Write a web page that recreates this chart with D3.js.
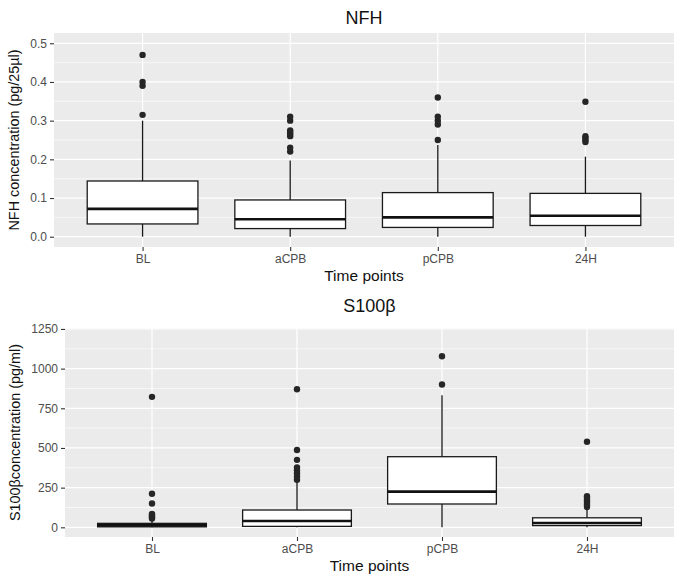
<!DOCTYPE html>
<html>
<head>
<meta charset="utf-8">
<script src="https://cdn.jsdelivr.net/npm/d3@7"></script>
<style>
  body { margin: 0; background: #fff; }
  svg { display: block; font-family: "Liberation Sans", Arial, sans-serif; }
</style>
</head>
<body>
<svg id="chart" width="686" height="578"></svg>
<script>
const timePoints = ["BL", "aCPB", "pCPB", "24H"];

// NFH (pg/25µl)
const nfhLow = [0, 0, 0, 0];
const nfhQ1 = [0.033, 0.021, 0.024, 0.029];
const nfhMedian = [0.072, 0.045, 0.05, 0.054];
const nfhQ3 = [0.144, 0.095, 0.114, 0.112];
const nfhHigh = [0.3, 0.197, 0.237, 0.207];
const nfhOutliers = [
  [0.315, 0.39, 0.4, 0.47],
  [0.22, 0.23, 0.26, 0.265, 0.27, 0.275, 0.3, 0.31],
  [0.25, 0.29, 0.3, 0.31, 0.36],
  [0.245, 0.25, 0.255, 0.26, 0.349],
];
const nfhTicks = [0, 0.1, 0.2, 0.3, 0.4, 0.5];

// S100β (pg/ml)
const s100Low = [0, 0, 0, 0];
const s100Q1 = [3, 6, 147, 11];
const s100Median = [12, 40, 225, 27];
const s100Q3 = [25, 109, 445, 60];
const s100High = [47, 290, 833, 118];
const s100Outliers = [
  [55, 62, 70, 78, 85, 150, 212, 822],
  [300, 320, 340, 360, 378, 425, 487, 870],
  [900, 1078],
  [128, 142, 156, 170, 184, 196, 539],
];
const s100Ticks = [0, 250, 500, 750, 1000, 1250];

const svg = d3.select("#chart");

function drawPanel(opts) {
  const { title, yLabel, low, q1, median, q3, high, outliers, ticks, domain, box, text } = opts;

  const x = d3
    .scalePoint()
    .domain(timePoints)
    .range([box.left, box.right])
    .padding(0.6);

  const y = d3.scaleLinear().domain(domain).range([box.bottom, box.top]);
  const boxWidth = x.step() * 0.75;

  const g = svg.append("g");

  g.append("rect")
    .attr("x", box.left)
    .attr("y", box.top)
    .attr("width", box.right - box.left)
    .attr("height", box.bottom - box.top)
    .attr("fill", "#ebebeb");

  // minor grid
  const minor = d3.pairs(ticks).map(([a, b]) => (a + b) / 2);
  g.append("g")
    .selectAll("line")
    .data(minor)
    .join("line")
    .attr("x1", box.left)
    .attr("x2", box.right)
    .attr("y1", (d) => y(d))
    .attr("y2", (d) => y(d))
    .attr("stroke", "#fff")
    .attr("stroke-width", 0.6);

  g.append("g")
    .selectAll("line")
    .data(ticks)
    .join("line")
    .attr("x1", box.left)
    .attr("x2", box.right)
    .attr("y1", (d) => y(d))
    .attr("y2", (d) => y(d))
    .attr("stroke", "#fff")
    .attr("stroke-width", 1.2);

  g.append("g")
    .selectAll("line")
    .data(timePoints)
    .join("line")
    .attr("x1", (d) => x(d))
    .attr("x2", (d) => x(d))
    .attr("y1", box.top)
    .attr("y2", box.bottom)
    .attr("stroke", "#fff")
    .attr("stroke-width", 1.2);

  // axes
  const yAxis = g
    .append("g")
    .attr("transform", `translate(${box.left},0)`)
    .call(d3.axisLeft(y).tickValues(ticks).tickSize(4).tickPadding(3).tickFormat(opts.format));
  yAxis.select(".domain").remove();

  const xAxis = g
    .append("g")
    .attr("transform", `translate(0,${box.bottom})`)
    .call(d3.axisBottom(x).tickSize(4).tickPadding(3));
  xAxis.select(".domain").remove();

  [yAxis, xAxis].forEach((ax) => {
    ax.selectAll(".tick line").attr("stroke", "#333").attr("stroke-width", 1.1);
    ax.selectAll(".tick text")
      .attr("fill", "#4d4d4d")
      .style("font-size", "12px")
      .style("font-family", '"Liberation Sans", Arial, sans-serif');
  });

  // boxes
  const stats = timePoints.map((t, i) => ({
    t,
    low: low[i],
    q1: q1[i],
    median: median[i],
    q3: q3[i],
    high: high[i],
    outliers: outliers[i],
  }));

  const groups = g.append("g").selectAll("g").data(stats).join("g");

  groups
    .append("line")
    .attr("x1", (d) => x(d.t))
    .attr("x2", (d) => x(d.t))
    .attr("y1", (d) => y(d.q3))
    .attr("y2", (d) => y(d.high))
    .attr("stroke", "#1a1a1a")
    .attr("stroke-width", 1.3);

  groups
    .append("line")
    .attr("x1", (d) => x(d.t))
    .attr("x2", (d) => x(d.t))
    .attr("y1", (d) => y(d.q1))
    .attr("y2", (d) => y(d.low))
    .attr("stroke", "#1a1a1a")
    .attr("stroke-width", 1.3);

  groups
    .append("rect")
    .attr("x", (d) => x(d.t) - boxWidth / 2)
    .attr("y", (d) => y(d.q3))
    .attr("width", boxWidth)
    .attr("height", (d) => y(d.q1) - y(d.q3))
    .attr("fill", "#fff")
    .attr("stroke", "#1a1a1a")
    .attr("stroke-width", 1.3);

  groups
    .append("line")
    .attr("x1", (d) => x(d.t) - boxWidth / 2)
    .attr("x2", (d) => x(d.t) + boxWidth / 2)
    .attr("y1", (d) => y(d.median))
    .attr("y2", (d) => y(d.median))
    .attr("stroke", "#111")
    .attr("stroke-width", 2.6);

  groups
    .selectAll("circle")
    .data((d) => d.outliers.map((v) => ({ t: d.t, v })))
    .join("circle")
    .attr("cx", (d) => x(d.t))
    .attr("cy", (d) => y(d.v))
    .attr("r", 3.2)
    .attr("fill", "#262626");

  // texts
  svg
    .append("text")
    .attr("x", (box.left + box.right) / 2)
    .attr("y", text.title)
    .attr("text-anchor", "middle")
    .style("font-size", "18px")
    .attr("fill", "#111")
    .text(title);

  svg
    .append("text")
    .attr("x", (box.left + box.right) / 2)
    .attr("y", text.xLabel)
    .attr("text-anchor", "middle")
    .style("font-size", "15.5px")
    .attr("fill", "#111")
    .text("Time points");

  svg
    .append("text")
    .attr("transform", `translate(${text.yLabel},${(box.top + box.bottom) / 2}) rotate(-90)`)
    .attr("text-anchor", "middle")
    .style("font-size", "14.4px")
    .attr("fill", "#111")
    .text(yLabel);
}

drawPanel({
  title: "NFH",
  yLabel: "NFH concentration (pg/25µl)",
  low: nfhLow,
  q1: nfhQ1,
  median: nfhMedian,
  q3: nfhQ3,
  high: nfhHigh,
  outliers: nfhOutliers,
  ticks: nfhTicks,
  format: d3.format(".1f"),
  domain: [-0.0266, 0.5266],
  box: { left: 54, right: 674, top: 33, bottom: 247 },
  text: { title: 24, xLabel: 281, yLabel: 19 },
});

drawPanel({
  title: "S100β",
  yLabel: "S100βconcentration (pg/ml)",
  low: s100Low,
  q1: s100Q1,
  median: s100Median,
  q3: s100Q3,
  high: s100High,
  outliers: s100Outliers,
  ticks: s100Ticks,
  format: d3.format("d"),
  domain: [-61, 1256],
  box: { left: 65, right: 674, top: 328, bottom: 537 },
  text: { title: 312, xLabel: 571, yLabel: 20 },
});
</script>
</body>
</html>
